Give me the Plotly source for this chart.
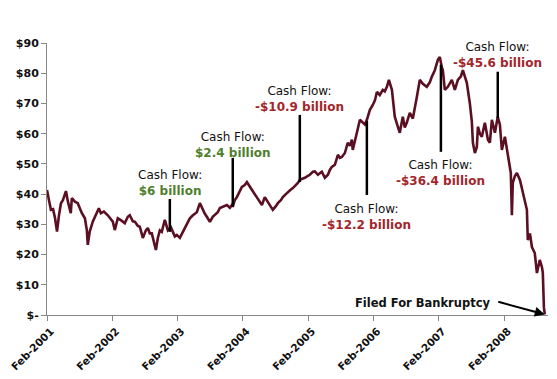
import plotly.graph_objects as go

dates = [
    "2001-02-01", "2001-02-07", "2001-02-12", "2001-02-23", "2001-03-07", "2001-03-18", "2001-03-29",
    "2001-04-09", "2001-04-20", "2001-05-01", "2001-05-07", "2001-05-18", "2001-05-29", "2001-06-09",
    "2001-06-14", "2001-06-20", "2001-07-07", "2001-07-23", "2001-08-04", "2001-08-15", "2001-09-01",
    "2001-09-12", "2001-09-17", "2001-09-28", "2001-10-15", "2001-11-01", "2001-11-18", "2001-11-29",
    "2001-12-16", "2002-01-07", "2002-01-24", "2002-02-04", "2002-02-15", "2002-03-04", "2002-03-21",
    "2002-04-12", "2002-04-29", "2002-05-10", "2002-05-27", "2002-06-07", "2002-06-24", "2002-07-05",
    "2002-07-22", "2002-08-08", "2002-08-19", "2002-08-30", "2002-09-10", "2002-09-21", "2002-10-03",
    "2002-10-14", "2002-10-25", "2002-11-05", "2002-11-22", "2002-12-09", "2002-12-26", "2003-01-06",
    "2003-01-17", "2003-01-28", "2003-02-14", "2003-03-03", "2003-03-25", "2003-04-11", "2003-04-28",
    "2003-05-20", "2003-06-06", "2003-06-17", "2003-07-04", "2003-07-15", "2003-08-01", "2003-08-17",
    "2003-09-14", "2003-09-26", "2003-10-12", "2003-11-04", "2003-11-21", "2003-12-02", "2003-12-07",
    "2003-12-18", "2003-12-30", "2004-01-15", "2004-01-27", "2004-02-12", "2004-02-24", "2004-03-11",
    "2004-03-23", "2004-04-08", "2004-04-20", "2004-05-06", "2004-05-18", "2004-06-03", "2004-06-20",
    "2004-07-07", "2004-07-18", "2004-08-04", "2004-08-15", "2004-09-01", "2004-09-12", "2004-09-29",
    "2004-10-10", "2004-10-27", "2004-11-07", "2004-11-24", "2004-12-05", "2004-12-16", "2005-01-02",
    "2005-01-13", "2005-01-30", "2005-02-10", "2005-02-27", "2005-03-10", "2005-03-27", "2005-04-07",
    "2005-04-18", "2005-05-05", "2005-05-22", "2005-06-02", "2005-06-13", "2005-06-30", "2005-07-17",
    "2005-07-28", "2005-08-08", "2005-08-25", "2005-09-10", "2005-09-22", "2005-10-03", "2005-10-08",
    "2005-10-20", "2005-10-31", "2005-11-17", "2005-12-03", "2005-12-15", "2005-12-26", "2006-01-12",
    "2006-01-28", "2006-02-09", "2006-02-20", "2006-03-08", "2006-03-25", "2006-04-05", "2006-04-17",
    "2006-04-28", "2006-05-15", "2006-05-31", "2006-06-17", "2006-06-28", "2006-07-15", "2006-07-26",
    "2006-08-06", "2006-08-23", "2006-09-09", "2006-09-20", "2006-10-01", "2006-10-18", "2006-11-04",
    "2006-11-26", "2006-12-13", "2006-12-24", "2007-01-10", "2007-01-27", "2007-02-07", "2007-02-18",
    "2007-02-24", "2007-03-07", "2007-03-24", "2007-04-15", "2007-05-02", "2007-05-19", "2007-06-05",
    "2007-06-16", "2007-06-27", "2007-07-08", "2007-07-25", "2007-08-05", "2007-08-11", "2007-08-22",
    "2007-09-02", "2007-09-08", "2007-09-19", "2007-09-30", "2007-10-17", "2007-11-03", "2007-11-14",
    "2007-11-25", "2007-12-12", "2007-12-28", "2008-01-09", "2008-01-20", "2008-02-06", "2008-02-22",
    "2008-03-05", "2008-03-10", "2008-03-16", "2008-03-21", "2008-04-02", "2008-04-13", "2008-04-30",
    "2008-05-16", "2008-05-28", "2008-06-08", "2008-06-13", "2008-06-25", "2008-07-06", "2008-07-22",
    "2008-08-03", "2008-08-14", "2008-08-19", "2008-08-31", "2008-09-05", "2008-09-11", "2008-09-16",
]

prices = [
    41.4, 40.0, 38.0, 34.8, 35.0, 32.0, 27.6,
    33.0, 37.0, 38.0, 39.0, 41.0, 37.5, 35.0,
    33.7, 38.7, 37.5, 37.0, 35.0, 33.7, 32.0,
    28.0, 23.2, 27.6, 30.9, 33.0, 35.3, 33.7,
    34.2, 33.0, 31.5, 30.9, 28.1, 32.0, 31.4,
    30.4, 32.5, 33.0, 31.0, 30.9, 29.5, 29.2,
    25.5, 28.0, 28.8, 27.0, 27.0, 24.0, 21.5,
    25.5, 28.0, 27.5, 31.5, 28.0, 29.0, 27.5,
    26.0, 26.5, 25.5, 27.5, 29.8, 32.0, 33.0,
    34.0, 37.0, 35.4, 33.5, 32.5, 30.8, 32.5,
    34.0, 35.4, 35.8, 36.4, 35.5, 36.4, 35.8,
    38.0, 39.0, 41.0, 42.4, 43.0, 44.0, 42.5,
    41.4, 40.0, 38.7, 37.5, 36.4, 39.0, 37.4,
    36.0, 34.8, 36.0, 37.0, 38.0, 39.0, 40.0,
    40.7, 41.5, 42.0, 43.0, 43.7, 44.7, 45.0,
    45.4, 46.0, 46.4, 47.4, 47.5, 46.4, 47.0,
    47.4, 45.4, 46.4, 48.0, 49.0, 49.7, 53.0,
    52.0, 52.3, 53.6, 57.0, 56.0, 58.0, 54.6,
    58.0, 60.3, 64.6, 63.6, 63.0, 64.6, 67.9,
    69.5, 71.0, 73.8, 72.8, 74.5, 74.0, 75.5,
    77.8, 74.5, 65.6, 62.3, 60.3, 65.6, 62.0,
    63.6, 66.9, 65.0, 68.0, 72.0, 77.8, 76.5,
    75.5, 77.0, 78.8, 81.0, 84.4, 85.4, 82.0,
    81.0, 74.5, 75.5, 77.8, 74.5, 77.8, 79.0,
    81.0, 79.0, 76.8, 70.0, 64.0, 57.0, 53.6,
    55.6, 62.3, 60.0, 59.0, 63.6, 58.0, 57.0,
    64.6, 60.3, 65.6, 63.0, 54.6, 59.0, 53.6,
    49.0, 47.0, 33.0, 43.7, 46.0, 47.0, 44.7,
    40.4, 38.0, 34.8, 24.8, 27.0, 22.5, 20.5,
    13.9, 17.0, 18.2, 15.9, 14.0, 2.6, 0.2,
]

# Cash-flow callouts: date, top and bottom of the marker line, label
event_dates = ["2002-12-20", "2003-12-07", "2004-12-16", "2005-12-26", "2007-02-13", "2007-12-28"]
event_top = [38.4, 52.0, 66.2, 64.2, 82.8, 80.5]
event_bottom = [27.5, 35.8, 44.0, 39.7, 54.0, 65.2]
event_labels = ["$6 billion", "$2.4 billion", "-$10.9 billion", "-$12.2 billion", "-$36.4 billion", "-$45.6 billion"]
event_label_y = [43.6, 56.3, 71.6, 32.5, 47.1, 86.1]
event_positive = [True, True, False, False, False, False]

tick_dates = ["2001-02-01", "2002-02-01", "2003-02-01", "2004-02-01", "2005-02-01",
              "2006-02-01", "2007-02-01", "2008-02-01"]
tick_date_labels = ["Feb-2001", "Feb-2002", "Feb-2003", "Feb-2004", "Feb-2005",
                    "Feb-2006", "Feb-2007", "Feb-2008"]
y_ticks = [0, 10, 20, 30, 40, 50, 60, 70, 80, 90]
y_tick_labels = ["$-", "$10", "$20", "$30", "$40", "$50", "$60", "$70", "$80", "$90"]

bankruptcy_date = "2008-09-16"
bankruptcy_price = 0.2

GREEN = "#4f7f2c"
RED = "#a3262b"
FONT = "DejaVu Sans"

fig = go.Figure()
fig.add_trace(go.Scatter(
    x=dates, y=prices, mode="lines",
    line=dict(color="#5b0f22", width=2.6),
    hoverinfo="skip", showlegend=False, cliponaxis=False,
))

shapes = []
annotations = []
for d, top, bot, lab, ly, pos in zip(event_dates, event_top, event_bottom, event_labels,
                                     event_label_y, event_positive):
    shapes.append(dict(type="line", xref="x", yref="y", x0=d, x1=d, y0=bot, y1=top,
                       line=dict(color="black", width=2.5)))
    color = GREEN if pos else RED
    annotations.append(dict(
        x=d, y=ly, xref="x", yref="y",
        text="Cash Flow:<br><span style='color:%s'><b>%s</b></span>" % (color, lab),
        showarrow=False, align="center",
        font=dict(family=FONT, size=12, color="#111111"),
        xanchor="center", yanchor="middle"))

annotations.append(dict(x=bankruptcy_date, y=bankruptcy_price, xref="x", yref="y", text="",
                        showarrow=True, ax=-48, ay=-13, arrowhead=2, arrowsize=1,
                        arrowwidth=2, arrowcolor="black"))
annotations.append(dict(x=bankruptcy_date, y=4.0, xref="x", yref="y",
                        text="<b>Filed For Bankruptcy</b>", showarrow=False,
                        xanchor="right", yanchor="middle", xshift=-52,
                        font=dict(family=FONT, size=11.5, color="#111111")))

# the page body adds an 8px margin at the top-left, so the figure is offset by it
fig.update_layout(
    width=549, height=371,
    margin=dict(l=39, r=9, t=35, b=64),
    paper_bgcolor="white", plot_bgcolor="white",
    shapes=shapes, annotations=annotations,
    showlegend=False,
    xaxis=dict(
        type="date", range=["2001-02-01", "2008-10-04"], automargin=False,
        tickvals=tick_dates, ticktext=tick_date_labels, tickangle=-45,
        ticklabeloverflow="allow", ticklabelshift=4,
        tickfont=dict(family=FONT, size=10.5, color="#111111", weight="bold"),
        showgrid=False, zeroline=False,
        showline=True, linecolor="#888888", linewidth=1,
        ticks="outside", ticklen=5, tickcolor="#888888",
    ),
    yaxis=dict(
        range=[0, 90], tickvals=y_ticks, ticktext=y_tick_labels, automargin=False,
        ticklabeloverflow="allow",
        tickfont=dict(family=FONT, size=11, color="#111111", weight="bold"),
        showgrid=False, zeroline=False,
        showline=True, linecolor="#888888", linewidth=1,
        ticks="outside", ticklen=5, tickcolor="#888888",
    ),
)

fig.write_html("out.html")
